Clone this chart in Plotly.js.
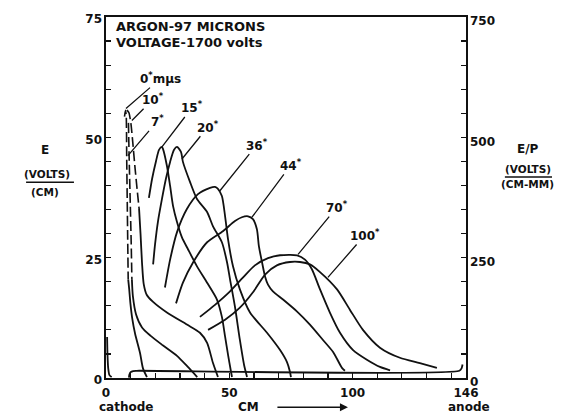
<!DOCTYPE html>
<html>
<head>
<meta charset="utf-8">
<script src="https://cdn.plot.ly/plotly-3.0.1.min.js"></script>
<style>html,body{margin:0;padding:0;background:#fff;}#chart{width:567px;height:417px;}</style>
</head>
<body>
<div id="chart"></div>
<script>
// ---- data (x in CM, y in E volts/cm) ----
const t0DashX = [7.5, 7.9, 8.2, 8.4, 8.6, 8.8, 9.0];
const t0DashY = [54.3, 55.6, 54.5, 45.5, 37.2, 28.8, 20.5];
const t0X = [9.0, 9.4, 9.9, 10.6, 11.8, 13.8, 15.0, 16.6];
const t0Y = [20.5, 18.5, 15.5, 12.5, 9.2, 5.2, 2.0, 0.2];

const t7DashX = [9.1, 9.4, 9.8, 10.2, 10.5];
const t7DashY = [53.0, 45.5, 37.2, 28.5, 20.5];
const t7X = [10.5, 10.9, 12.2, 14.6, 18.0, 23.0, 28.8, 33.0, 37.0];
const t7Y = [20.5, 17.0, 13.2, 10.5, 8.8, 6.8, 4.6, 2.4, 0.2];

const t10DashX = [8.5, 9.3, 10.1, 10.9, 11.8, 12.6, 13.4];
const t10DashY = [55.7, 55.1, 52.9, 48.7, 43.5, 39.3, 35.3];
const t10X = [13.4, 14.0, 14.6, 15.3, 16.5, 19.1, 24.7, 32.8, 38.1, 41.0, 43.4, 45.4];
const t10Y = [35.3, 30.0, 24.0, 19.5, 17.3, 15.8, 13.6, 11.1, 9.4, 7.3, 3.1, 0.2];

const t15X = [17.4, 18.7, 20.3, 21.5, 22.7, 23.1, 24.7, 26.0, 27.2, 28.8, 30.8, 33.3, 36.9, 41.0, 45.0, 47.0, 48.3, 49.5, 50.7, 51.1];
const t15Y = [37.4, 41.4, 45.1, 47.4, 48.0, 47.6, 44.1, 39.9, 35.7, 32.4, 29.2, 26.7, 23.2, 19.8, 16.3, 12.7, 8.6, 4.8, 1.3, 0.2];

const t20X = [19.1, 19.9, 21.1, 22.7, 24.3, 26.0, 27.6, 28.8, 30.4, 31.2, 34.1, 36.9, 41.0, 43.4, 47.0, 49.1, 50.3, 52.3, 54.3, 56.0, 57.2];
const t20Y = [23.6, 27.8, 32.6, 37.2, 41.4, 44.9, 47.4, 48.0, 47.0, 44.9, 40.7, 37.2, 34.5, 31.5, 28.2, 24.0, 20.5, 14.8, 7.9, 2.7, 0.2];

const t36X = [23.9, 26.0, 28.8, 32.8, 37.3, 42.2, 44.2, 45.4, 47.0, 48.3, 49.5, 51.5, 54.3, 58.4, 65.3, 70.6, 73.4, 74.6, 75.0];
const t36Y = [18.8, 24.6, 30.3, 35.1, 38.2, 39.5, 39.7, 39.3, 37.8, 33.6, 28.8, 23.2, 18.4, 13.6, 9.4, 5.8, 3.3, 1.3, 0.2];

const t44X = [28.4, 31.2, 35.3, 41.0, 47.4, 52.3, 55.1, 57.6, 59.6, 61.2, 62.0, 63.3, 64.5, 65.7, 67.7, 71.8, 77.5, 82.7, 88.0, 92.1, 95.7, 96.9];
const t44Y = [15.5, 19.8, 24.0, 28.2, 30.5, 32.6, 33.4, 33.6, 33.0, 30.9, 27.4, 24.0, 21.1, 19.4, 18.0, 16.3, 13.8, 11.1, 7.9, 5.4, 2.1, 1.5];

const t70X = [38.1, 44.2, 50.3, 55.6, 60.4, 65.7, 70.6, 77.5, 80.7, 83.5, 86.8, 90.8, 94.9, 100.2, 105.8, 111.1, 115.2];
const t70Y = [12.7, 15.2, 18.0, 20.9, 23.4, 24.9, 25.5, 25.5, 24.6, 22.6, 18.4, 13.6, 9.4, 5.8, 3.8, 2.3, 1.6];

const t100X = [41.4, 48.3, 54.3, 59.6, 64.5, 69.3, 74.6, 78.7, 82.7, 86.8, 93.7, 98.9, 104.2, 111.1, 119.2, 127.3, 134.2];
const t100Y = [10.0, 12.1, 14.6, 17.8, 21.5, 23.4, 24.1, 24.1, 23.6, 22.0, 18.4, 14.2, 10.0, 6.3, 4.2, 3.1, 2.1];

const baseX = [9.3, 9.5, 10.0, 11.0, 12.5, 143.3, 144.2, 144.6];
const baseY = [0.1, 0.7, 1.2, 1.45, 1.5, 1.5, 2.0, 2.8];
const hookX = [0.45, 0.6, 0.9, 1.4, 2.3];
const hookY = [8.5, 5.0, 2.0, 0.6, 0.2];

// labels: text, curve point (x,y), label position (lx,ly)
const labelText = ['0<sup>*</sup>mμs', '10<sup>*</sup>', '7<sup>*</sup>', '15<sup>*</sup>', '20<sup>*</sup>', '36<sup>*</sup>', '44<sup>*</sup>', '70<sup>*</sup>', '100<sup>*</sup>'];
const labelPtX = [8.1, 10.5, 8.9, 22.7, 30.8, 46.2, 59.2, 77.9, 90.0];
const labelPtY = [56.0, 53.5, 46.2, 48.0, 45.5, 38.9, 33.4, 25.7, 20.9];
const labelPosX = [22.3, 19.1, 20.7, 34.9, 41.4, 61.2, 75.0, 93.7, 105.0];
const labelPosY = [62.3, 57.9, 53.3, 56.2, 52.2, 48.5, 44.3, 35.5, 29.7];

const xTickVals = [0, 50, 100, 146];

// ---- traces ----
const lineStyle = {color: '#111', width: 1.8, shape: 'spline', smoothing: 0.7};
const dashStyle = {color: '#111', width: 1.6, dash: '10px,4px', shape: 'spline', smoothing: 0.6};
function tr(x, y, style) {
  return {x: x, y: y, type: 'scatter', mode: 'lines', line: style, hoverinfo: 'skip', showlegend: false};
}
const traces = [
  tr(t0DashX, t0DashY, dashStyle), tr(t0X, t0Y, lineStyle),
  tr(t7DashX, t7DashY, dashStyle), tr(t7X, t7Y, lineStyle),
  tr(t10DashX, t10DashY, dashStyle), tr(t10X, t10Y, lineStyle),
  tr(t15X, t15Y, lineStyle), tr(t20X, t20Y, lineStyle),
  tr(t36X, t36Y, lineStyle), tr(t44X, t44Y, lineStyle),
  tr(t70X, t70Y, lineStyle), tr(t100X, t100Y, lineStyle),
  tr(baseX, baseY, lineStyle), tr(hookX, hookY, lineStyle),
  {x: [null], y: [null], yaxis: 'y2', type: 'scatter', mode: 'lines', showlegend: false, hoverinfo: 'skip'}
];

// ---- annotations ----
const F = {family: 'DejaVu Sans', size: 12, color: '#111', weight: 'bold'};
const FS = Object.assign({}, F, {size: 10.5});
const ann = [];
for (let i = 0; i < labelText.length; i++) {
  ann.push({x: labelPtX[i], y: labelPtY[i], xref: 'x', yref: 'y',
    ax: labelPosX[i], ay: labelPosY[i], axref: 'x', ayref: 'y',
    text: labelText[i], showarrow: true, arrowhead: 0, arrowwidth: 1.3, arrowcolor: '#111',
    standoff: 0, startstandoff: 0, font: F});
}
function txt(text, x, y, opts) {
  return Object.assign({text: text, x: x, y: y, xref: 'paper', yref: 'paper', showarrow: false,
    xanchor: 'center', yanchor: 'middle', font: F}, opts || {});
}
ann.push(txt('ARGON-97 MICRONS', 0.022, 0.975, {xanchor: 'left', font: Object.assign({}, F, {size: 13})}));
ann.push(txt('VOLTAGE-1700 volts', 0.022, 0.928, {xanchor: 'left', font: Object.assign({}, F, {size: 13})}));
ann.push(txt('E', -0.169, 0.631));
ann.push(txt('(VOLTS)', -0.164, 0.566, {font: FS}));
ann.push(txt('(CM)', -0.169, 0.514, {font: FS}));
ann.push(txt('E/P', 1.172, 0.633));
ann.push(txt('(VOLTS)', 1.172, 0.578, {font: FS}));
ann.push(txt('(CM-MM)', 1.172, 0.537, {font: FS}));
ann.push(txt('cathode', 0.056, -0.081));
ann.push(txt('CM', 0.397, -0.081));
ann.push(txt('anode', 1.008, -0.081));
ann.push({x: 0.672, y: -0.081, xref: 'paper', yref: 'paper', ax: -72, ay: 0, text: '',
  showarrow: true, arrowhead: 2, arrowsize: 1, arrowwidth: 1.6, arrowcolor: '#111'});

const shapes = [
  {type: 'line', xref: 'paper', yref: 'paper', x0: -0.222, x1: -0.089, y0: 0.542, y1: 0.542, line: {color: '#111', width: 1.5}},
  {type: 'line', xref: 'paper', yref: 'paper', x0: 1.108, x1: 1.239, y0: 0.557, y1: 0.557, line: {color: '#111', width: 1.5}}
];

const axBase = {showgrid: false, zeroline: false, showline: true, linecolor: '#111', linewidth: 1.6,
  ticks: 'inside', ticklen: 5, tickwidth: 1.2, tickcolor: '#111', tickfont: F, fixedrange: true};

const layout = {
  width: 567, height: 417,
  margin: {l: 106, r: 101, t: 17, b: 39, pad: 0},
  paper_bgcolor: '#fff', plot_bgcolor: '#fff',
  font: F,
  xaxis: Object.assign({}, axBase, {range: [0, 146], mirror: true, tickmode: 'array', tickvals: xTickVals, ticklabelstandoff: 3,
    minor: {tickmode: 'linear', tick0: 0, dtick: 10, ticks: 'inside', ticklen: 5, tickwidth: 1.2, tickcolor: '#111'}}),
  yaxis: Object.assign({}, axBase, {range: [0, 75], tickmode: 'linear', tick0: 0, dtick: 25, ticklabelshift: 2,
    minor: {tickmode: 'linear', tick0: 0, dtick: 5, ticks: 'inside', ticklen: 5, tickwidth: 1.2, tickcolor: '#111'}}),
  yaxis2: Object.assign({}, axBase, {range: [0, 750], overlaying: 'y', side: 'right', tickmode: 'linear', tick0: 0, dtick: 250, ticklabelshift: 4,
    minor: {tickmode: 'linear', tick0: 0, dtick: 50, ticks: 'inside', ticklen: 5, tickwidth: 1.2, tickcolor: '#111'}}),
  annotations: ann,
  shapes: shapes
};

Plotly.newPlot('chart', traces, layout, {displayModeBar: false, staticPlot: true});
</script>
</body>
</html>
